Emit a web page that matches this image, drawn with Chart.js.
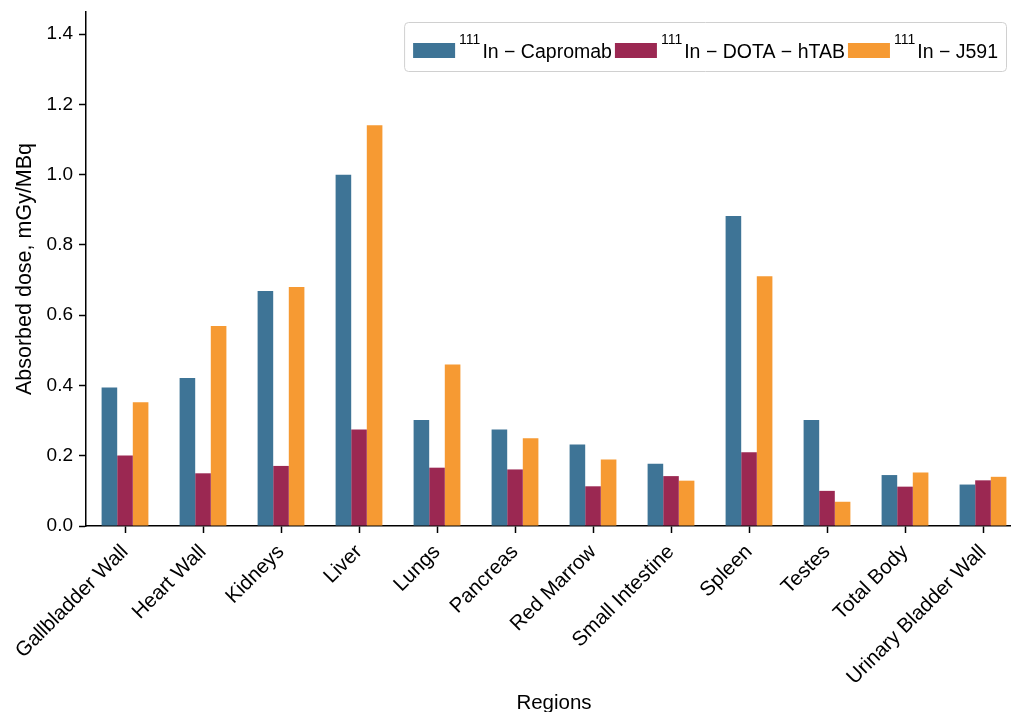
<!DOCTYPE html>
<html>
<head>
<meta charset="utf-8">
<script src="https://cdn.jsdelivr.net/npm/chart.js@4/dist/chart.umd.min.js"></script>
<style>
  html, body { margin: 0; padding: 0; background: #fff; overflow: hidden; }
  #wrap { width: 1011px; height: 712px; overflow: hidden; }
</style>
</head>
<body>
<div id="wrap"><canvas id="c" width="1030" height="712"></canvas></div>
<script>
const regions = ["Gallbladder Wall", "Heart Wall", "Kidneys", "Liver", "Lungs", "Pancreas",
  "Red Marrow", "Small Intestine", "Spleen", "Testes", "Total Body", "Urinary Bladder Wall"];
const capromab = [0.394, 0.421, 0.669, 1.0, 0.302, 0.275, 0.232, 0.177, 0.882, 0.302, 0.145, 0.118];
const dotaHtab = [0.201, 0.150, 0.171, 0.275, 0.166, 0.161, 0.113, 0.142, 0.210, 0.100, 0.112, 0.130];
const j591 = [0.352, 0.569, 0.680, 1.141, 0.460, 0.250, 0.189, 0.129, 0.711, 0.069, 0.152, 0.140];
const yTicks = [0, 0.2, 0.4, 0.6, 0.8, 1.0, 1.2, 1.4];
const seriesNames = ["In \u2212 Capromab", "In \u2212 DOTA \u2212 hTAB", "In \u2212 J591"];
const isotope = "111";
const colors = ["#3e7496", "#9b2852", "#f69a33"];

const FONT = "'Liberation Sans', Arial, sans-serif";

// legend drawn inside the plot, matplotlib style (superscript isotope number)
const boxLegend = {
  id: "boxLegend",
  afterDraw(chart) {
    const ctx = chart.ctx;
    const main = "19.5px " + FONT, sup = "14px " + FONT;
    ctx.save();
    let w = 8;
    const parts = seriesNames.map((name) => {
      ctx.font = sup; const sw = ctx.measureText(isotope).width;
      ctx.font = main; const mw = ctx.measureText(name).width;
      return { sw, mw };
    });
    parts.forEach((p) => { w += 42 + 4 + p.sw + 2 + p.mw + 3; });
    w += 6;
    const right = 1006, top = 22, h = 49;
    const left = right - w;
    ctx.fillStyle = "rgba(255,255,255,0.85)";
    ctx.strokeStyle = "#d0d0d0";
    ctx.lineWidth = 1;
    ctx.beginPath();
    ctx.roundRect(left + 0.5, top + 0.5, w, h, 4);
    ctx.fill();
    ctx.stroke();
    let x = left + 9;
    const base = top + 36;
    parts.forEach((p, i) => {
      ctx.fillStyle = colors[i];
      ctx.fillRect(x, top + 21, 42, 15);
      x += 46;
      ctx.fillStyle = "#000";
      ctx.textBaseline = "alphabetic";
      ctx.textAlign = "left";
      ctx.font = sup;
      ctx.fillText(isotope, x, base - 14);
      x += p.sw + 2;
      ctx.font = main;
      ctx.fillText(seriesNames[i], x, base);
      x += p.mw + 3;
    });
    ctx.restore();
  }
};

new Chart(document.getElementById("c"), {
  type: "bar",
  data: {
    labels: regions,
    datasets: [
      { label: isotope + seriesNames[0], data: capromab, backgroundColor: colors[0] },
      { label: isotope + seriesNames[1], data: dotaHtab, backgroundColor: colors[1] },
      { label: isotope + seriesNames[2], data: j591, backgroundColor: colors[2] },
    ],
  },
  options: {
    responsive: false,
    animation: false,
    devicePixelRatio: 1,
    layout: { padding: { top: 12, right: 8, left: 0, bottom: 0 } },
    datasets: { bar: { categoryPercentage: 0.6, barPercentage: 1.0, borderWidth: 0 } },
    plugins: { legend: { display: false }, tooltip: { enabled: false } },
    scales: {
      x: {
        grid: { display: true, drawOnChartArea: false, offset: false, tickLength: 7, tickColor: "#000", tickWidth: 1.5 },
        border: { color: "#000", width: 1.5 },
        ticks: { color: "#000", font: { family: FONT, size: 20.5 }, minRotation: 45, maxRotation: 45, autoSkip: false, padding: 7 },
        title: { display: true, text: "Regions", color: "#000", font: { family: FONT, size: 20.5, lineHeight: 1.0 }, padding: { top: 0, bottom: -2 } },
        afterFit(scale) { scale.height = 186; scale.paddingLeft = 0; scale.paddingRight = 0; },
      },
      y: {
        min: 0,
        max: 1.463,
        grid: { display: true, drawOnChartArea: false, tickLength: 7, tickColor: "#000", tickWidth: 1.5 },
        border: { color: "#000", width: 1.5 },
        afterBuildTicks(scale) { scale.ticks = yTicks.map((v) => ({ value: v })); },
        ticks: { color: "#000", font: { family: FONT, size: 19 }, padding: 6, callback: (v) => Number(v).toFixed(1) },
        title: { display: true, text: "Absorbed dose, mGy/MBq", color: "#000", font: { family: FONT, size: 21.5, lineHeight: 1.0 }, padding: { top: 14, bottom: 0 } },
        afterFit(scale) { scale.width = 86; scale.paddingTop = 0; scale.paddingBottom = 0; },
      },
    },
  },
  plugins: [boxLegend],
});
</script>
</body>
</html>
